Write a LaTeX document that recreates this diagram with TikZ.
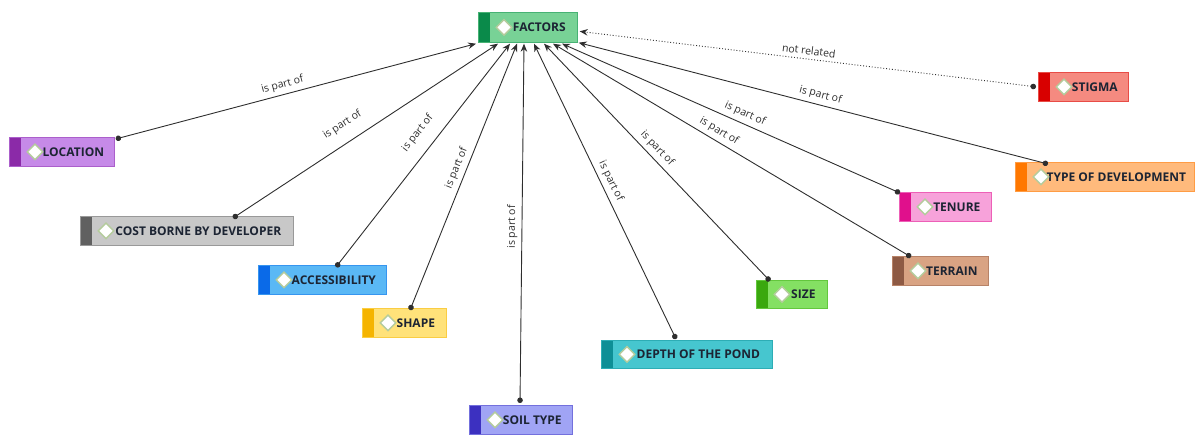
\documentclass[tikz,border=0pt]{standalone}
\usepackage{fontspec}
\setmainfont{Open Sans}
\usetikzlibrary{arrows.meta,shapes.geometric,calc}
\definecolor{lc}{HTML}{2E2E2E}
\definecolor{txt}{HTML}{1C2433}
\definecolor{diaedge}{HTML}{B4CC9C}
\definecolor{sFac}{HTML}{0A8A4A}\definecolor{fFac}{HTML}{78D296}
\definecolor{sSti}{HTML}{D80000}\definecolor{fSti}{HTML}{F58A80}
\definecolor{sLoc}{HTML}{8B2AA8}\definecolor{fLoc}{HTML}{C68AE8}
\definecolor{sCos}{HTML}{606060}\definecolor{fCos}{HTML}{C8C8C8}
\definecolor{sAcc}{HTML}{0A6AE8}\definecolor{fAcc}{HTML}{5AB8F5}
\definecolor{sSha}{HTML}{F5B400}\definecolor{fSha}{HTML}{FFE27A}
\definecolor{sSoi}{HTML}{3C30C0}\definecolor{fSoi}{HTML}{A0A4F5}
\definecolor{sDep}{HTML}{0E8F96}\definecolor{fDep}{HTML}{46C6CF}
\definecolor{sSiz}{HTML}{3AA80E}\definecolor{fSiz}{HTML}{84E063}
\definecolor{sTer}{HTML}{8E5A44}\definecolor{fTer}{HTML}{D9A383}
\definecolor{sTen}{HTML}{E0108C}\definecolor{fTen}{HTML}{F7A2DA}
\definecolor{sTyp}{HTML}{FF7800}\definecolor{fTyp}{HTML}{FFBA7C}
\newcommand\nodefnt{\bfseries\fontsize{12}{14}\selectfont}
\newcommand\lblfnt{\fontsize{10.5}{12}\selectfont}
\tikzset{
  box/.style={rectangle, anchor=north west, inner sep=0pt, line width=0.7pt,
    font=\nodefnt, text=txt},
  dia/.style={diamond, minimum width=16pt, minimum height=16pt, inner sep=0pt,
    fill=white, draw=diaedge, line width=1.4pt},
  conn/.style={draw=lc, line width=0.9pt, {Circle[length=5.5pt]}-{Stealth[length=8pt,width=6.5pt]}},
  dconn/.style={conn, dotted},
  lbl/.style={font=\lblfnt, text=lc, sloped, above=3pt, inner sep=1pt},
  lblfar/.style={lbl, above=8pt}
}
\newcommand\fnode[8]{%
  \node[box, minimum width=#4pt, minimum height=#5pt, fill=#7, draw=#6!45!#7,
    path picture={\fill[#6] (path picture bounding box.south west) rectangle ([xshift=12pt]path picture bounding box.north west);}]
    (#1) at (#2,#3) {\hspace{23pt}#8};
  \node[dia] (#1-icon) at ([xshift=26pt]#1.west) {};
}
\begin{document}
\begin{tikzpicture}[x=1pt,y=-1pt]
\useasboundingbox (0,0) rectangle (1196,435);
\fnode{fac}{478}{12}{99}{30}{sFac}{fFac}{FACTORS}
\fnode{sti}{1038}{72}{90}{29}{sSti}{fSti}{STIGMA}
\fnode{loc}{9}{137}{105}{29}{sLoc}{fLoc}{LOCATION}
\fnode{cos}{80}{216}{213}{29}{sCos}{fCos}{COST BORNE BY DEVELOPER}
\fnode{acc}{258}{265}{128}{29}{sAcc}{fAcc}{ACCESSIBILITY}
\fnode{sha}{362}{308}{84}{29}{sSha}{fSha}{SHAPE}
\fnode{soi}{469}{405}{103}{29}{sSoi}{fSoi}{SOIL TYPE}
\fnode{dep}{601}{340}{171}{28}{sDep}{fDep}{DEPTH OF THE POND}
\fnode{siz}{756}{280}{71}{28}{sSiz}{fSiz}{SIZE}
\fnode{ter}{892}{256}{96}{29}{sTer}{fTer}{TERRAIN}
\fnode{ten}{899}{192}{92}{29}{sTen}{fTen}{TENURE}
\fnode{typ}{1015}{162}{179}{29}{sTyp}{fTyp}{TYPE OF DEVELOPMENT}

\draw[conn] ($(loc.north east)+(1,2)$) -- node[lbl,pos=0.47]{is part of} ($(fac.south west)+(-2,1)$);
\draw[conn] ($(cos.north west)+(153,2)$) -- node[lblfar,pos=0.45]{is part of} ($(fac.south west)+(20,1)$);
\draw[conn] ($(acc.north west)+(78,2)$) -- node[lblfar,pos=0.55]{is part of} ($(fac.south west)+(32,1)$);
\draw[conn] ($(sha.north west)+(48,2)$) -- node[lbl,pos=0.52]{is part of} ($(fac.south west)+(39,1)$);
\draw[conn] ($(soi.north west)+(51,-2)$) -- node[lbl,pos=0.49]{is part of} ($(fac.south west)+(46,1)$);
\draw[conn] ($(dep.north west)+(75,-1)$) -- node[lbl,pos=0.52]{is part of} ($(fac.south west)+(56,1)$);
\draw[conn] ($(siz.north west)+(14,1)$) -- node[lbl,pos=0.53]{is part of} ($(fac.south west)+(66,1)$);
\draw[conn] ($(ter.north west)+(19,1)$) -- node[lbl,pos=0.55]{is part of} ($(fac.south west)+(75,1)$);
\draw[conn] ($(ten.north west)+(1,1)$) -- node[lbl,pos=0.47]{is part of} ($(fac.south west)+(84,1)$);
\draw[conn] ($(typ.north west)+(33,2)$) -- node[lbl,pos=0.49]{is part of} ($(fac.south east)+(1,0)$);
\draw[dconn] ($(sti.west)+(-2,0)$) -- node[lbl,pos=0.5]{not related} ($(fac.east)+(2,4)$);
\end{tikzpicture}
\end{document}
